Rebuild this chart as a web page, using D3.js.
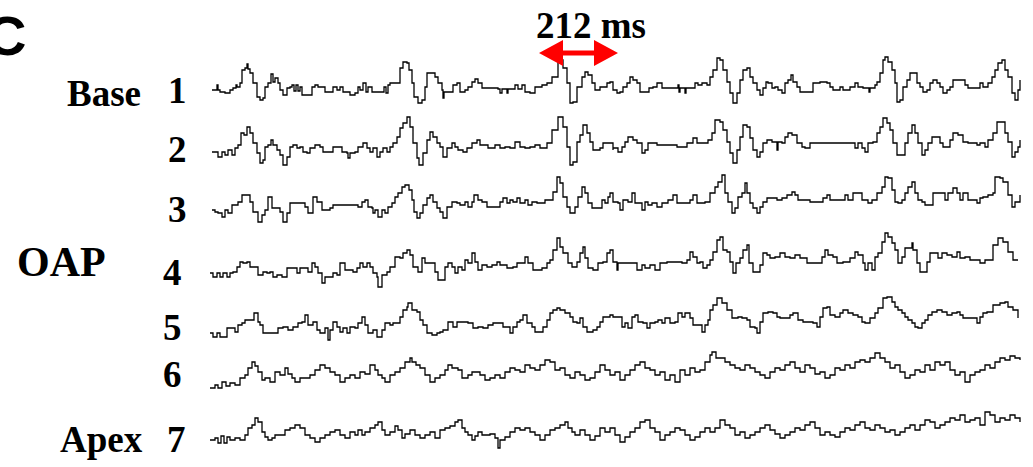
<!DOCTYPE html>
<html><head><meta charset="utf-8">
<script src="https://cdn.jsdelivr.net/npm/d3@7/dist/d3.min.js"></script>
<style>body{margin:0;background:#fff}svg{display:block}</style>
</head><body>
<script>
// ---- data: samples (t, index) and amplitude (v) for each recording site ----
const trace1 = [[2,0],[7,0],[7,5],[8,0],[10,-2],[15,-3],[20,0],[23,2],[26,5],[27,3],[30,7],[32,20],[35,22],[37,26],[38,21],[40,17],[43,7],[47,-7],[50,-10],[53,-8],[55,3],[58,7],[61,16],[63,8],[65,12],[68,7],[70,0],[73,-5],[77,2],[80,3],[82,5],[84,-1],[86,5],[88,-1],[90,3],[92,-5],[100,-5],[102,3],[105,5],[108,3],[113,3],[115,-2],[120,-2],[123,3],[127,0],[130,3],[133,-2],[138,-2],[140,-5],[145,-3],[148,3],[150,0],[153,7],[156,-2],[158,3],[162,-2],[172,-2],[174,3],[176,-3],[178,5],[180,7],[185,7],[190,22],[193,28],[197,27],[199,20],[202,7],[204,-7],[208,-13],[212,-10],[215,3],[217,17],[222,17],[225,13],[228,7],[232,0],[233,-8],[234,-2],[240,-2],[243,5],[247,7],[250,-2],[255,0],[258,3],[262,8],[265,11],[268,7],[272,2],[288,1],[290,-3],[292,1],[297,-3],[298,1],[305,5],[308,1],[312,5],[315,-2],[320,-3],[325,3],[332,5],[337,7],[342,13],[348,30],[353,22],[357,7],[360,-13],[363,-12],[367,3],[372,13],[375,18],[378,15],[382,7],[385,0],[390,3],[397,7],[400,8],[403,0],[407,-3],[410,-2],[413,3],[417,7],[420,13],[423,10],[427,7],[430,-2],[437,-2],[439,2],[443,3],[447,7],[450,7],[452,2],[467,2],[468,5],[469,-2],[470,2],[473,2],[475,-3],[476,2],[482,2],[485,7],[488,5],[492,7],[497,5],[500,13],[503,20],[507,32],[510,30],[513,20],[517,8],[520,-3],[523,-13],[527,-3],[530,10],[533,20],[537,22],[540,13],[543,7],[547,0],[550,-5],[553,2],[556,8],[558,7],[562,2],[565,3],[568,0],[572,-3],[575,7],[578,10],[581,15],[583,8],[587,3],[590,-2],[600,-2],[603,7],[610,8],[617,7],[620,3],[623,0],[630,3],[633,0],[640,3],[645,7],[648,3],[653,2],[658,2],[659,-2],[660,2],[665,5],[667,8],[670,17],[673,30],[675,33],[678,28],[682,20],[685,7],[687,-12],[690,-10],[693,3],[697,10],[700,17],[703,17],[707,7],[710,3],[713,-2],[717,0],[720,7],[723,10],[727,7],[730,3],[733,-3],[737,0],[740,3],[743,10],[748,10],[752,10],[755,5],[758,2],[767,2],[770,7],[773,3],[778,7],[782,13],[785,20],[788,27],[792,30],[795,20],[798,13],[802,-3],[805,-10],[808,0],[810,10]];
const trace2 = [[2,-2],[7,-2],[8,-7],[12,-2],[15,-5],[18,0],[22,-5],[25,2],[28,5],[31,17],[34,15],[37,23],[40,17],[43,7],[47,-3],[50,-13],[53,-10],[55,3],[58,5],[61,10],[63,5],[67,0],[70,-5],[73,-15],[77,-7],[80,3],[83,5],[87,2],[90,3],[93,-2],[97,-3],[100,2],[105,5],[110,3],[113,-2],[120,-2],[123,3],[128,3],[132,-2],[137,-3],[138,-8],[140,-3],[145,-2],[148,3],[153,7],[157,2],[160,-2],[163,2],[167,-7],[170,-2],[173,2],[177,-2],[180,3],[183,7],[187,13],[190,22],[193,27],[197,33],[200,23],[203,7],[207,-8],[209,-15],[213,-3],[217,10],[220,18],[223,13],[227,7],[230,3],[233,-7],[237,2],[242,7],[245,3],[248,0],[253,-2],[257,2],[262,7],[267,10],[270,5],[275,5],[278,2],[285,5],[290,2],[295,3],[300,2],[305,8],[310,3],[315,2],[320,3],[325,5],[330,2],[337,7],[342,20],[348,33],[353,23],[357,3],[360,-15],[363,-12],[367,8],[370,15],[373,25],[377,17],[380,8],[383,0],[390,2],[393,7],[398,7],[403,0],[403,2],[408,-2],[412,3],[415,8],[418,13],[423,10],[427,7],[432,-3],[435,0],[438,7],[447,5],[457,5],[467,3],[477,7],[483,12],[487,7],[493,7],[498,10],[502,17],[505,30],[510,28],[513,20],[517,8],[520,-3],[523,-13],[527,0],[530,13],[533,25],[537,23],[540,12],[543,0],[547,-7],[550,-2],[553,7],[557,10],[562,8],[567,0],[568,8],[572,7],[575,13],[578,17],[582,15],[587,7],[592,3],[595,2],[600,7],[613,7],[627,7],[640,7],[645,2],[648,7],[652,2],[655,-2],[658,7],[663,8],[667,17],[670,23],[673,32],[677,27],[680,20],[683,7],[687,-5],[692,-5],[695,7],[698,17],[702,25],[705,17],[708,7],[712,-5],[715,0],[718,7],[722,13],[727,13],[730,7],[733,3],[737,3],[740,10],[743,17],[748,15],[753,8],[758,7],[767,5],[770,7],[775,3],[778,10],[783,17],[787,28],[792,28],[795,17],[798,8],[802,-7],[805,-2],[808,3],[810,10]];
const trace3 = [[2,-5],[5,-7],[8,-8],[12,-12],[15,-5],[18,-8],[22,0],[25,0],[28,3],[32,10],[37,10],[40,3],[43,-7],[48,-17],[52,-10],[55,-5],[58,8],[62,-3],[67,-3],[70,-7],[73,-17],[77,-8],[80,2],[87,2],[92,2],[95,-2],[98,-8],[103,8],[107,3],[112,-5],[117,-5],[120,-3],[123,0],[128,0],[133,0],[138,0],[143,0],[148,-2],[152,3],[155,5],[158,-2],[162,-3],[163,-8],[165,-5],[168,-12],[172,-5],[175,-8],[178,-2],[182,2],[185,8],[188,12],[192,18],[195,20],[199,15],[202,5],[204,-7],[207,-13],[210,-8],[213,0],[217,7],[220,10],[223,3],[227,-3],[230,-7],[233,-13],[237,-2],[242,3],[247,2],[250,0],[255,3],[258,-2],[262,3],[264,10],[268,5],[272,3],[277,-2],[285,-2],[290,3],[293,7],[297,2],[300,5],[303,3],[307,7],[310,2],[315,5],[318,0],[322,3],[327,2],[330,2],[335,5],[340,5],[343,13],[347,28],[350,22],[353,8],[357,-2],[360,-8],[365,-2],[368,8],[372,18],[375,12],[378,2],[382,-3],[388,-3],[392,5],[395,2],[398,8],[400,12],[403,3],[408,2],[410,-5],[413,5],[418,3],[422,12],[425,2],[428,2],[432,-5],[435,3],[438,0],[442,2],[447,-2],[452,2],[458,5],[463,10],[467,2],[473,2],[480,5],[483,10],[487,2],[492,2],[495,3],[500,12],[505,18],[508,23],[512,30],[515,12],[518,3],[522,-8],[525,-3],[528,8],[532,12],[535,22],[537,12],[540,2],[543,-3],[547,-8],[550,-2],[553,3],[557,7],[560,7],[567,5],[572,7],[577,10],[582,13],[585,10],[588,5],[593,5],[600,3],[607,3],[613,7],[617,10],[620,5],[623,5],[630,5],[635,10],[638,5],[643,12],[648,12],[652,5],[655,5],[658,2],[662,5],[667,12],[672,18],[675,28],[678,27],[682,15],[685,3],[688,2],[692,5],[695,12],[698,18],[702,23],[705,12],[708,5],[712,3],[715,0],[720,0],[723,12],[728,12],[732,12],[735,5],[738,12],[743,17],[747,12],[750,5],[753,12],[758,5],[763,5],[767,2],[770,7],[773,8],[778,10],[783,12],[785,28],[790,27],[793,23],[798,10],[802,-2],[805,3],[808,3],[810,10]];
const trace4 = [[0,-3],[3,-7],[7,-3],[10,-7],[13,-3],[17,-7],[20,-3],[23,-2],[27,3],[30,8],[33,7],[37,8],[40,3],[45,3],[48,-5],[53,-2],[57,-3],[60,-2],[63,-7],[67,-5],[72,-7],[77,2],[83,2],[87,-3],[90,2],[95,2],[98,-2],[102,7],[105,3],[108,-3],[112,-13],[115,-7],[120,-7],[123,-3],[127,-5],[130,7],[135,0],[140,0],[143,-2],[147,2],[150,7],[153,3],[157,7],[160,3],[163,-3],[167,-7],[168,-17],[172,-5],[177,-2],[180,3],[185,13],[190,12],[193,17],[197,20],[200,15],[203,3],[208,-2],[212,12],[215,7],[220,7],[225,-2],[228,-10],[233,-10],[235,3],[238,7],[242,3],[245,-3],[248,3],[252,0],[255,10],[258,7],[262,17],[265,8],[268,0],[272,5],[277,3],[282,5],[287,8],[290,5],[297,2],[303,3],[307,7],[312,7],[315,13],[318,7],[323,0],[328,0],[332,2],[337,7],[340,10],[343,20],[347,32],[350,23],[353,17],[358,7],[362,3],[367,8],[370,17],[373,23],[375,12],[378,2],[383,0],[388,7],[393,8],[397,17],[400,20],[403,8],[403,8],[407,0],[408,7],[423,7],[427,0],[432,5],[435,2],[440,5],[445,0],[450,7],[457,8],[465,8],[472,7],[477,10],[480,18],[483,13],[487,7],[490,8],[493,2],[497,5],[500,10],[503,18],[507,30],[510,33],[513,20],[517,18],[520,8],[523,-3],[526,7],[530,12],[533,20],[537,25],[539,7],[543,-2],[547,-2],[550,5],[553,17],[557,15],[560,12],[565,13],[570,17],[575,13],[580,12],[585,15],[590,12],[597,7],[607,7],[612,13],[615,20],[618,15],[623,13],[627,7],[633,8],[640,12],[645,18],[648,15],[653,7],[655,0],[658,7],[662,0],[665,13],[668,17],[672,28],[675,37],[678,33],[682,27],[685,20],[688,7],[692,13],[695,22],[698,22],[702,27],[703,20],[707,7],[710,-2],[713,-2],[717,8],[720,17],[725,17],[728,12],[732,17],[737,15],[742,13],[747,18],[750,12],[755,13],[760,10],[767,10],[770,7],[775,10],[780,10],[783,25],[788,32],[793,28],[798,18],[803,10],[808,10]];
const trace5 = [[0,-8],[3,-12],[7,-8],[10,-12],[13,-12],[17,-3],[22,-3],[25,-7],[28,0],[32,2],[35,5],[40,5],[44,12],[48,3],[50,0],[53,-8],[60,-8],[63,-8],[68,-3],[73,-2],[78,-5],[83,-2],[88,2],[92,3],[95,10],[98,0],[103,3],[107,-5],[110,-8],[115,-3],[118,-15],[120,-5],[123,3],[127,-2],[130,-7],[133,-3],[137,-8],[140,-2],[145,-3],[148,2],[152,8],[155,0],[158,-8],[163,-5],[167,-12],[172,-5],[175,2],[180,0],[183,2],[187,2],[190,8],[193,15],[197,18],[198,22],[202,15],[207,13],[210,5],[213,0],[217,-8],[222,-10],[227,-8],[230,-7],[233,-5],[238,3],[243,-2],[247,3],[252,3],[258,2],[263,-3],[268,-2],[273,-3],[278,0],[283,2],[288,2],[293,-2],[298,-2],[300,-8],[303,-2],[307,3],[310,5],[313,10],[317,2],[322,-2],[325,-7],[330,-7],[333,-2],[337,5],[340,12],[343,15],[347,17],[350,15],[355,12],[360,8],[363,3],[367,2],[370,7],[373,-2],[377,-7],[383,-5],[387,-2],[390,3],[393,8],[398,8],[400,10],[403,8],[408,8],[412,-2],[415,2],[418,-3],[422,8],[425,10],[428,3],[433,2],[437,-3],[440,2],[445,3],[448,5],[452,2],[455,7],[460,2],[465,3],[468,12],[472,8],[475,12],[480,7],[483,0],[490,0],[492,-7],[495,0],[498,5],[500,15],[503,20],[507,27],[512,22],[517,15],[522,7],[528,8],[532,7],[537,5],[540,-2],[545,-3],[547,-8],[550,3],[553,12],[558,13],[563,12],[567,8],[570,7],[575,7],[580,10],[583,12],[588,5],[593,3],[598,3],[603,2],[607,-2],[610,8],[613,17],[617,18],[620,10],[625,8],[630,12],[633,15],[638,12],[643,10],[648,8],[652,3],[655,2],[660,7],[665,12],[668,17],[673,27],[677,28],[682,23],[685,18],[688,15],[692,12],[695,8],[698,5],[702,2],[705,-2],[708,-3],[712,2],[715,5],[718,10],[722,13],[727,15],[732,13],[737,10],[742,12],[747,13],[750,10],[753,7],[758,7],[763,7],[767,2],[770,8],[773,12],[777,13],[783,20],[790,22],[795,23],[798,18],[803,15],[808,7]];
const trace6 = [[0,-8],[5,-5],[8,-8],[12,-2],[16,-6],[20,-3],[25,-5],[30,2],[35,5],[38,12],[42,18],[45,14],[48,8],[52,0],[55,2],[60,-2],[65,8],[70,5],[75,12],[78,6],[82,2],[85,-2],[90,2],[95,2],[100,5],[105,10],[110,15],[115,12],[120,8],[125,5],[130,-2],[135,2],[140,5],[145,2],[150,8],[155,6],[160,15],[165,10],[168,5],[172,2],[175,-2],[180,5],[185,8],[190,12],[195,18],[200,22],[202,18],[206,15],[210,12],[215,5],[220,-2],[225,2],[230,5],[235,10],[238,15],[242,12],[248,10],[252,2],[258,5],[262,8],[270,5],[275,0],[280,2],[285,5],[290,2],[295,8],[300,12],[305,10],[310,8],[315,15],[320,12],[325,10],[330,15],[335,20],[340,18],[345,10],[350,12],[355,5],[360,2],[365,8],[370,5],[375,0],[380,2],[385,8],[390,15],[395,10],[400,5],[405,8],[410,0],[415,5],[420,10],[425,15],[430,18],[435,12],[440,10],[445,5],[450,8],[455,0],[460,5],[465,-2],[470,10],[475,5],[480,12],[485,8],[490,10],[495,18],[500,25],[502,28],[506,22],[510,22],[515,18],[520,15],[525,12],[530,10],[535,15],[540,12],[545,8],[550,5],[555,2],[560,8],[565,12],[570,10],[575,15],[580,18],[585,12],[590,8],[595,15],[600,12],[605,6],[610,8],[615,2],[620,5],[625,12],[630,10],[635,15],[640,12],[645,18],[650,20],[655,18],[660,22],[665,27],[670,22],[675,18],[680,12],[685,15],[690,8],[695,2],[700,5],[705,10],[710,8],[715,15],[720,10],[725,18],[730,15],[735,18],[740,10],[745,5],[750,8],[755,-2],[760,5],[765,8],[770,10],[775,15],[780,12],[785,18],[790,22],[795,20],[800,24],[805,22],[810,20]];
const trace7 = [[0,0],[5,2],[8,-3],[11,4],[14,-3],[17,3],[20,0],[25,2],[30,0],[35,5],[38,12],[42,15],[45,22],[48,18],[52,8],[55,3],[58,0],[62,2],[65,5],[70,5],[75,10],[80,12],[85,15],[90,12],[95,5],[100,2],[105,-2],[110,2],[115,5],[120,8],[125,10],[130,5],[135,2],[140,8],[145,5],[148,10],[152,5],[155,8],[160,12],[165,15],[168,18],[172,10],[175,5],[180,8],[185,14],[188,10],[192,2],[195,6],[200,10],[205,5],[210,2],[215,5],[220,8],[225,2],[230,10],[235,12],[240,14],[245,18],[248,20],[252,12],[255,8],[258,5],[262,0],[265,4],[268,8],[272,5],[280,6],[285,2],[288,-8],[290,0],[295,3],[300,8],[305,12],[310,10],[315,12],[320,8],[325,5],[330,0],[335,5],[340,10],[345,12],[350,15],[355,18],[358,12],[362,8],[365,5],[370,10],[375,5],[380,0],[385,4],[390,12],[395,8],[400,12],[405,5],[410,-2],[415,3],[420,8],[425,12],[430,18],[435,20],[440,12],[445,8],[450,0],[455,5],[460,8],[465,12],[470,10],[475,5],[480,0],[485,3],[490,8],[495,12],[500,8],[505,12],[510,20],[515,15],[520,12],[525,5],[530,8],[535,2],[540,5],[545,8],[550,12],[555,15],[560,10],[565,6],[570,2],[575,5],[580,8],[585,12],[590,10],[595,15],[600,18],[605,12],[610,5],[615,8],[620,5],[625,3],[630,8],[635,12],[640,10],[645,15],[650,18],[655,12],[660,10],[665,15],[670,12],[675,8],[680,10],[685,5],[690,8],[695,12],[700,15],[705,10],[710,15],[715,20],[720,18],[725,12],[730,15],[735,18],[740,22],[745,20],[750,25],[755,18],[760,20],[765,22],[770,15],[775,28],[780,25],[785,18],[790,22],[795,20],[800,25],[805,22],[810,18]];

const traces = [trace1, trace2, trace3, trace4, trace5, trace6, trace7];
const traceNumbers = ["1","2","3","4","5","6","7"];
const regionLabels = ["Base", "OAP", "Apex"];
const intervalMs = 212;
const intervalStartSample = 329;
const msPerSample = 212 / 79;
const sampleCount = 810;

// ---- layout ----
const W = 1033, H = 467;
const svg = d3.select("body").append("svg").attr("width", W).attr("height", H);
const x = d3.scaleLinear().domain([0, sampleCount]).range([210, 1020]);
const rowBase = [90, 150, 205, 270, 325, 380, 440];

const line = d3.line().curve(d3.curveStepAfter);
traces.forEach((tr, i) => {
  const y = d3.scaleLinear().domain([-40, 40]).range([rowBase[i] + 40, rowBase[i] - 40]);
  line.x(d => x(d[0])).y(d => y(d[1]));
  svg.append("path").datum(tr).attr("d", line)
    .attr("fill", "none").attr("stroke", "#000").attr("stroke-width", 1.3)
    .attr("stroke-linejoin", "miter");
});

const serif = "'Liberation Serif', 'Times New Roman', serif";
const numPos = [[168,103],[168,162],[168,222],[163,285],[163,340],[163,387],[167,452]];
svg.selectAll("text.num").data(traceNumbers).join("text").attr("class","num")
  .attr("x", (d,i) => numPos[i][0]).attr("y", (d,i) => numPos[i][1])
  .attr("font-family", serif).attr("font-weight", "bold").attr("font-size", 37)
  .text(d => d);

const regPos = [[67,106,37],[17,276,42],[60,452,37]];
svg.selectAll("text.reg").data(regionLabels).join("text").attr("class","reg")
  .attr("x", (d,i) => regPos[i][0]).attr("y", (d,i) => regPos[i][1])
  .attr("font-family", serif).attr("font-weight", "bold").attr("font-size", (d,i) => regPos[i][2])
  .text(d => d);

svg.append("text").attr("x", -14).attr("y", 55)
  .attr("font-family", "'Liberation Sans', Arial, sans-serif").attr("font-weight", "bold")
  .attr("font-size", 56).text("C");

// interval arrow
const ax0 = x(intervalStartSample), ax1 = x(intervalStartSample + intervalMs / msPerSample), ay = 53;
const hl = 24, hw = 13, sw = 2.5;
svg.append("path").attr("fill", "#ff0000")
  .attr("d", `M${ax0},${ay} L${ax0+hl},${ay-hw} L${ax0+hl},${ay-sw} L${ax1-hl},${ay-sw} L${ax1-hl},${ay-hw} L${ax1},${ay} L${ax1-hl},${ay+hw} L${ax1-hl},${ay+sw} L${ax0+hl},${ay+sw} L${ax0+hl},${ay+hw} Z`);
svg.append("text").attr("x", 536).attr("y", 38)
  .attr("font-family", serif).attr("font-weight", "bold").attr("font-size", 37)
  .text(intervalMs + " ms");
</script>
</body></html>
